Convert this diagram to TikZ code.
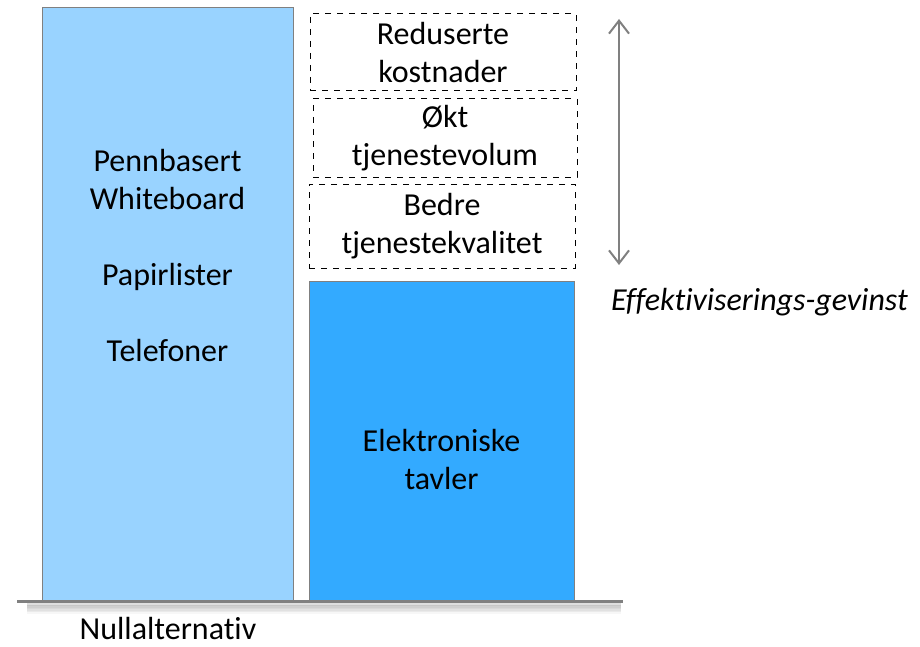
\documentclass[tikz,border=0pt]{standalone}
\usepackage{fontspec}
\setmainfont{Carlito}[Ligatures=NoCommon]
\usetikzlibrary{arrows.meta,calc}
\definecolor{bar-light}{RGB}{153,211,255}
\definecolor{bar-dark}{RGB}{51,170,255}
\definecolor{edge-gray}{RGB}{128,128,128}

\begin{document}
\begin{tikzpicture}[x=0.5pt, y=-0.5pt]

\tikzstyle{bar}=[draw=edge-gray, line width=0.5pt, inner sep=0pt]
\tikzstyle{gain}=[draw, dashed, line width=0.5pt, inner sep=0pt, align=center, minimum width=133pt]
\tikzstyle{annot}=[align=center, font=\fontsize{16}{19}\selectfont]

\useasboundingbox (0,0) rectangle (920,647);

% the two bars
\node[bar, fill=bar-light, minimum width=125.5pt, minimum height=297pt] (bar0) at (167.5,305) {};
\node[bar, fill=bar-dark, minimum width=132.5pt, minimum height=160pt] (bar1) at (441.5,441) {};

\node[annot] (txt0) at (167.5,255) {Pennbasert\\Whiteboard\\[19pt]Papirlister\\[19pt]Telefoner};
\node[annot] (txt1) at (441.5,460) {Elektroniske\\tavler};

% dashed gain boxes
\node[gain, annot, minimum height=38.5pt] (g1) at (443,52.5) {Reduserte\\kostnader};
\node[gain, annot, minimum width=132pt, minimum height=39pt] (g2) at (445,138) {Økt\\tjenestevolum};
\node[gain, annot, minimum height=42pt] (g3) at (442,226) {Bedre\\tjenestekvalitet};

% ground line with soft shadow
\coordinate (base l) at (17,601);
\coordinate (base r) at (623,601);
\foreach \d/\o in {11/0.03, 9.5/0.05, 8/0.07, 6.5/0.09, 5/0.11, 3.5/0.13}
  \draw[black, opacity=\o, line width=1.5pt] ($(base l)+(10,\d)$) -- ($(base r)+(-2,\d)$);
\draw[edge-gray, line width=1.5pt] (base l) -- (base r);

% gain arrow
\coordinate (gtop) at (619,19);
\coordinate (gbot) at (619,265);
\draw[edge-gray, line width=1pt, {Straight Barb[length=6.5pt, width=10pt]}-{Straight Barb[length=6.5pt, width=10pt]}] (gtop) -- (gbot);

\node[annot, anchor=west, font=\fontsize{16}{19}\selectfont\itshape] (effekt) at (604,302) {Effektiviserings-gevinst};
\node[annot, inner sep=0pt] (null) at (168,628) {Nullalternativ};

\end{tikzpicture}
\end{document}
